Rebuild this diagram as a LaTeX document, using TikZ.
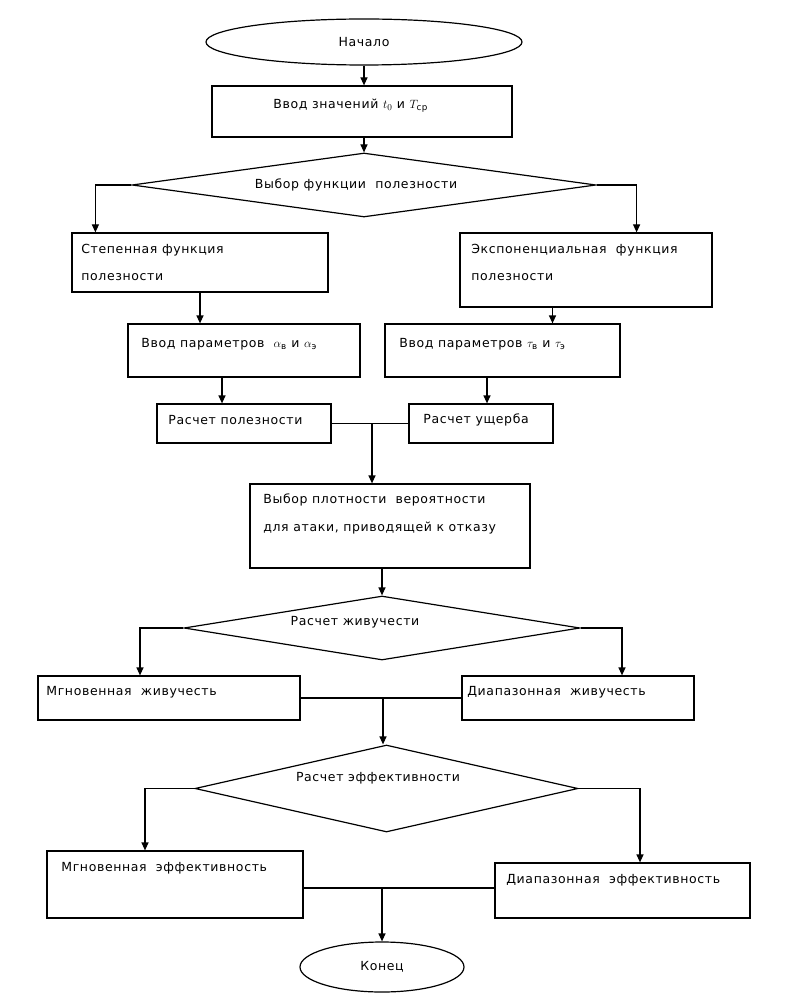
\documentclass[tikz,border=0pt]{standalone}
\usepackage{amsmath}
\usepackage{fontspec}
\setmainfont{DejaVu Sans}[LetterSpace=5]
\usetikzlibrary{shapes.geometric,arrows.meta}

\begin{document}
\begin{tikzpicture}[x=1pt,y=1pt,yscale=-1,xscale=1,
  line width=1.2pt,
  font=\fontsize{12.5}{15}\selectfont,
  blk/.style={draw,rectangle,inner sep=0pt},
  term/.style={draw,ellipse,inner sep=0pt},
  chs/.style={draw,diamond,inner sep=0pt},
  lbl/.style={anchor=west,inner sep=0.75pt,align=left},
  arr/.style={-{Triangle[length=8pt,width=7pt]}}]
\useasboundingbox (0,0) rectangle (786,1000);

%Shape: Ellipse [start]
\node (start) [term,minimum width=316pt,minimum height=46pt] at (364,42) {Начало};
%Shape: Rectangle [input]
\node (inp) [blk,minimum width=300pt,minimum height=51pt] at (362,111.5) {};
%Shape: Diamond [choice of function]
\node (d1) [chs,minimum width=464pt,minimum height=64pt] at (364,185) {};
%Shape: Rectangle [power]
\node (pow) [blk,minimum width=256pt,minimum height=59pt] at (200,262.5) {};
%Shape: Rectangle [exponential]
\node (expo) [blk,minimum width=252pt,minimum height=74pt] at (586,270) {};
%Shape: Rectangle [params]
\node (parA) [blk,minimum width=232pt,minimum height=53pt] at (244,350.5) {};
\node (parB) [blk,minimum width=235pt,minimum height=53pt] at (502.5,350.5) {};
%Shape: Rectangle [utility, damage]
\node (util) [blk,minimum width=174pt,minimum height=39pt] at (244,423.5) {};
\node (dmg) [blk,minimum width=144pt,minimum height=39pt] at (481,423.5) {};
%Shape: Rectangle [density]
\node (dens) [blk,minimum width=280pt,minimum height=84pt] at (390,526) {};
%Shape: Diamond [survivability]
\node (d2) [chs,minimum width=396pt,minimum height=64pt] at (382,628) {};
\node (liv1) [blk,minimum width=262pt,minimum height=44pt] at (169,698) {};
\node (liv2) [blk,minimum width=232pt,minimum height=44pt] at (578,698) {};
%Shape: Diamond [efficiency]
\node (d3) [chs,minimum width=383pt,minimum height=87pt] at (386.5,788.5) {};
\node (eff1) [blk,minimum width=256pt,minimum height=67pt] at (175,884.5) {};
\node (eff2) [blk,minimum width=255pt,minimum height=55pt] at (622.5,890.5) {};
%Shape: Ellipse [end]
\node (stop) [term,minimum width=164pt,minimum height=50pt] at (382,967) {Конец};

%Straight Lines
\draw[arr] (start.south) -- (start.south |- inp.north);
\draw[arr] (d1.north |- inp.south) -- (d1.north);
\draw[arr] (d1.west) -| ([xshift=24pt]pow.north west);
\draw[arr] (d1.east) -| ([xshift=-76pt]expo.north east);
\draw[arr] (pow.south) -- (pow.south |- parA.north);
\draw[arr] ([xshift=50pt]parB.north |- expo.south) -- ([xshift=50pt]parB.north);
\draw[arr] ([xshift=-22pt]parA.south) -- ([xshift=-22pt]util.north);
\draw[arr] ([xshift=6pt]dmg.north |- parB.south) -- ([xshift=6pt]dmg.north);
\draw (util.east) -- (dmg.west);
\coordinate (j1) at (372,423.5);
\draw[arr] (j1) -- (j1 |- dens.north);
\draw[arr] (d2.north |- dens.south) -- (d2.north);
\draw[arr] (d2.west) -| ([xshift=-29pt]liv1.north);
\draw[arr] (d2.east) -| ([xshift=44pt]liv2.north);
\draw (liv1.east) -- (liv2.west);
\coordinate (j2) at (383,698);
\draw[arr] (j2) -- (j2 |- d3.north);
\draw[arr] (d3.west) -| ([xshift=-30pt]eff1.north);
\draw[arr] (d3.east) -| ([xshift=17.5pt]eff2.north);
\coordinate (j3) at (382,888);
\draw (eff1.east |- j3) -- (eff2.west |- j3);
\draw[arr] (j3) -- (stop.north);

% Text Node
\node (tinp) [lbl] at (272,106) {Ввод значений $t_0$ и $T_{\text{ср}}$};
\node (td1) [inner sep=0.75pt] at (356,185) {Выбор функции\ \ полезности};
\node (tpow1) [lbl] at (80,250) {Степенная функция};
\node (tpow2) [lbl] at (80,277) {полезности};
\node (texp1) [lbl] at (470,250) {Экспоненциальная\ \ функция};
\node (texp2) [lbl] at (470,277) {полезности};
\node (tparA) [lbl] at (140,344) {Ввод параметров\ \ $\alpha_{\text{в}}$ и $\alpha_{\text{э}}$};
\node (tparB) [lbl] at (398,344) {Ввод параметров\ $\tau_{\text{в}}$ и $\tau_{\text{э}}$};
\node (tutil) [lbl] at (167,420) {Расчет полезности};
\node (tdmg) [lbl] at (422,420) {Расчет ущерба};
\node (tdens1) [lbl] at (262,500) {Выбор плотности\ \ вероятности};
\node (tdens2) [lbl] at (262,528) {для атаки, приводящей к отказу};
\node (td2) [inner sep=0.75pt] at (355,622) {Расчет живучести};
\node (tliv1) [lbl] at (45,692) {Мгновенная\ \ живучесть};
\node (tliv2) [lbl] at (466,692) {Диапазонная\ \ живучесть};
\node (td3) [inner sep=0.75pt] at (378,778) {Расчет эффективности};
\node (teff1) [lbl] at (60,868) {Мгновенная\ \ эффективность};
\node (teff2) [lbl] at (505,880) {Диапазонная\ \ эффективность};

\end{tikzpicture}
\end{document}
